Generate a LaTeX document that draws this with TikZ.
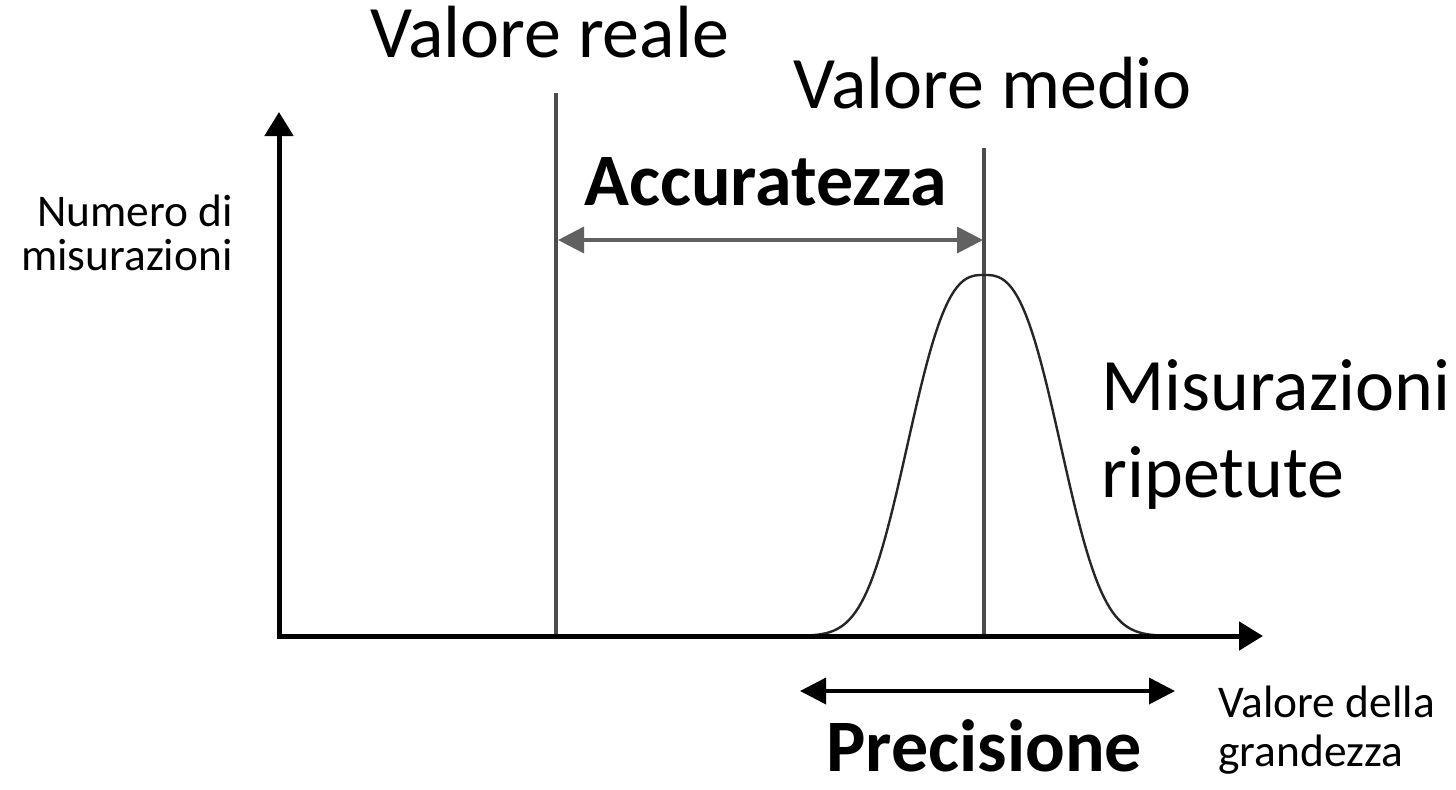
\documentclass[tikz,border=0pt]{standalone}
\usepackage{fontspec}
\setmainfont{Carlito}
\usetikzlibrary{arrows.meta}
\tikzset{
  axis/.style={line width=2.5pt, black, -{Triangle[length=12pt,width=14pt]}},
  refline/.style={line width=1.6pt, black!70},
  dimarrow/.style={line width=1.8pt, {Triangle[length=13pt,width=13pt]}-{Triangle[length=13pt,width=13pt]}},
  curve/.style={line width=1.2pt, black!85},
  big/.style={font=\fontsize{37}{44}\selectfont, inner sep=0pt},
  bigbold/.style={font=\fontsize{37}{44}\selectfont\bfseries, inner sep=0pt},
  small/.style={font=\fontsize{22.7}{27}\selectfont, inner sep=0pt},
}
\begin{document}
\begin{tikzpicture}[x=0.5pt,y=-0.5pt]
\useasboundingbox (0,0) rectangle (1456,789);
% coordinates
\coordinate (O) at (279,636);
\coordinate (ytip) at (279,112);
\coordinate (xtip) at (1263,636);
\coordinate (vrtop) at (556,93);
\coordinate (vrbot) at (556,636);
\coordinate (vmtop) at (984,148);
\coordinate (vmbot) at (984,636);
\coordinate (accl) at (558,240);
\coordinate (accr) at (983,240);
\coordinate (prel) at (800,691);
\coordinate (prer) at (1175,691);
% reference lines
\draw[refline] (vrtop) -- (vrbot);
\draw[refline] (vmtop) -- (vmbot);
% curve
\draw[curve] plot[domain=-180:180, samples=121] (\x+984, {636-361*exp(-((abs(\x)+0.001)/90)^2.8)});
% axes
\draw[axis] (O) -- (ytip);
\draw[axis] ([xshift=-1.2pt]O) -- (xtip);
% dimension arrows
\draw[dimarrow, draw=black!62] (accl) -- (accr);
\draw[dimarrow, draw=black] (prel) -- (prer);
% labels
\node[big, anchor=base west] (vreale) at (370,57) {Valore reale};
\node[big, anchor=base west] (vmedio) at (793,108) {Valore medio};
\node[bigbold, anchor=base west] (accur) at (584,205) {Accuratezza};
\node[small, anchor=base east] (num1) at (233,226) {Numero di};
\node[small, anchor=base east] (num2) at (233,270) {misurazioni};
\node[big, anchor=base west] (mis1) at (1101,410) {Misurazioni};
\node[big, anchor=base west] (mis2) at (1101,497) {ripetute};
\node[bigbold, anchor=base west] (prec) at (826,771) {Precisione};
\node[small, anchor=base west] (vg1) at (1218,717) {Valore della};
\node[small, anchor=base west] (vg2) at (1218,766) {grandezza};
\end{tikzpicture}
\end{document}
